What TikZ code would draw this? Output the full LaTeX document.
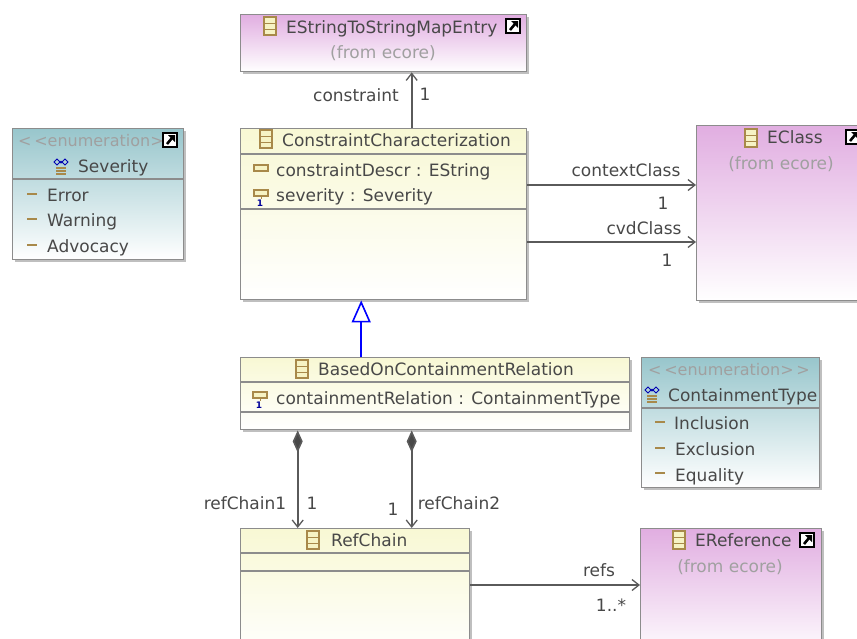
\documentclass[tikz,border=0pt]{standalone}
\usepackage{fontspec}
\setmainfont{DejaVu Sans}
\usetikzlibrary{shadows}
\usetikzlibrary{arrows.meta}
\definecolor{inkgray}{HTML}{484848}
\definecolor{fromgray}{HTML}{A0A0A0}
\definecolor{edgegray}{HTML}{8C8C8C}
\definecolor{icontan}{HTML}{A8894A}
\definecolor{iconcream}{HTML}{F6F3C4}
\tikzset{
    umlbox/.style={draw=edgegray, line width=1.4pt, rectangle, anchor=north west, inner sep=0pt,
        drop shadow={shadow xshift=2.5pt, shadow yshift=-2.5pt, fill=black, opacity=0.25}},
    classbox/.style={umlbox, top color={rgb,255:red,248;green,248;blue,212}, bottom color=white},
    ecorebox/.style={umlbox, top color={rgb,255:red,225;green,174;blue,225}, bottom color=white},
    enumbox/.style={umlbox, top color={rgb,255:red,152;green,198;blue,204}, bottom color=white},
    sepline/.style={draw=edgegray, line width=1.2pt},
    lbl/.style={inner sep=0pt, text=inkgray, font=\fontsize{17pt}{20pt}\selectfont, text height=13pt, text depth=4pt},
    fromlbl/.style={lbl, text=fromgray},
    stereolbl/.style={fromlbl, font=\fontsize{16pt}{20pt}\selectfont},
    assoc/.style={draw=inkgray!90, line width=1.6pt, -{Straight Barb[length=7pt,width=11pt,line width=1.3pt]}},
    compos/.style={assoc, {Diamond[length=22pt,width=10pt,fill=inkgray]}-{Straight Barb[length=7pt,width=11pt,line width=1.3pt]}},
    generalize/.style={draw=blue, line width=1.6pt, -{Triangle[open,length=22pt,width=19pt,fill=white]}},
    classicon/.pic={
        \draw[draw=icontan, fill=iconcream, line width=1.2pt] (-6,-9) rectangle (6,9);
        \draw[draw=icontan, line width=1pt] (-6,-3) -- (6,-3) (-6,3) -- (6,3);
    },
    attricon/.pic={
        \draw[draw=icontan, fill=iconcream, line width=1.2pt] (-7,-3) rectangle (7,3);
    },
    finalicon/.pic={
        \draw[draw=icontan, fill=iconcream, line width=1.2pt] (-7,-6) rectangle (7,0);
        \draw[draw=icontan, line width=1pt] (0,0) -- (0,3);
        \node[inner sep=0pt, text=blue!60!black, font=\bfseries\fontsize{9pt}{9pt}\selectfont] at (-1,7) {1};
    },
    enumicon/.pic={
        \draw[draw=blue!70!black, line width=1pt] (-7,-7) -- (-4,-10) -- (-1,-7) -- (-4,-4) -- cycle (7,-7) -- (4,-10) -- (1,-7) -- (4,-4) -- cycle;
        \fill[blue!70!black] (0,-7) circle (1.5);
        \draw[draw=icontan, line width=1.2pt] (-5,-1) -- (5,-1) (-5,2) -- (5,2) (-5,5) -- (5,5);
    },
    literalicon/.pic={
        \draw[draw=icontan, line width=2.6pt] (-5,0) -- (5,0);
    },
    linkicon/.pic={
        \draw[draw=black, fill=white, line width=1.3pt] (-7,-7) rectangle (7,7);
        \draw[draw=black, line width=2.6pt] (-3,4) -- (2,-2);
        \fill[black] (-2,-5) -- (5,-5) -- (5,2) -- cycle;
    },
}

\begin{document}
\begin{tikzpicture}[x=1pt, y=-1pt]
    \useasboundingbox (0,0) rectangle (857,638);
    \clip (0,0) rectangle (857,638);

    \node[ecorebox, minimum width=286pt, minimum height=57pt] (mapentry) at (240,14) {};
    \node[classbox, minimum width=286pt, minimum height=171pt] (charbox) at (240,128) {};
    \node[enumbox, minimum width=171pt, minimum height=131pt] (severity) at (12,128) {};
    \node[ecorebox, minimum width=175pt, minimum height=175pt] (eclass) at (696,125) {};
    \node[classbox, minimum width=389pt, minimum height=72pt] (basedon) at (240,357) {};
    \node[enumbox, minimum width=178pt, minimum height=130pt] (conttype) at (641,357) {};
    \node[classbox, minimum width=229pt, minimum height=130pt] (refchain) at (240,528) {};
    \node[ecorebox, minimum width=181pt, minimum height=130pt] (ereference) at (640,528) {};

    \draw[sepline] (charbox.west |- 0,154) -- (charbox.east |- 0,154);
    \draw[sepline] (charbox.west |- 0,209) -- (charbox.east |- 0,209);
    \draw[sepline] (severity.west |- 0,179) -- (severity.east |- 0,179);
    \draw[sepline] (basedon.west |- 0,382) -- (basedon.east |- 0,382);
    \draw[sepline] (basedon.west |- 0,412) -- (basedon.east |- 0,412);
    \draw[sepline] (conttype.west |- 0,408) -- (conttype.east |- 0,408);
    \draw[sepline] (refchain.west |- 0,553) -- (refchain.east |- 0,553);
    \draw[sepline] (refchain.west |- 0,571) -- (refchain.east |- 0,571);

    \draw[assoc] ([xshift=28pt]charbox.north) -- ([xshift=28pt]mapentry.south);
    \draw[assoc] (charbox.east |- 0,185) -- (eclass.west |- 0,185);
    \draw[assoc] (charbox.east |- 0,242) -- (eclass.west |- 0,242);
    \draw[assoc] (refchain.east |- 0,585) -- (ereference.west |- 0,585);
    \draw[compos] ([xshift=-137.5pt]basedon.south) -- ([xshift=-57.5pt]refchain.north);
    \draw[compos] ([xshift=-23.5pt]basedon.south) -- ([xshift=56.5pt]refchain.north);
    \draw[generalize] ([xshift=-74pt]basedon.north) -- ([xshift=-22.5pt]charbox.south);

    \node[lbl, anchor=west] (mapname) at (286,29) {EStringToStringMapEntry};
    \node[fromlbl] (mapfrom) at (383,54) {(from ecore)};
    \node[lbl, anchor=west] (charname) at (282,142) {ConstraintCharacterization};
    \node[lbl, anchor=west] (chardescr) at (276,172) {constraintDescr : EString};
    \node[lbl, anchor=west] (charsev) at (276,197) {severity : Severity};
    \node[stereolbl, anchor=west] (sevstereo) at (18,142) {<\,<enumeration>\,>};
    \node[lbl, anchor=west] (sevname) at (78,168) {Severity};
    \node[lbl, anchor=west] (sevone) at (47,197) {Error};
    \node[lbl, anchor=west] (sevtwo) at (47,222) {Warning};
    \node[lbl, anchor=west] (sevthree) at (47,248) {Advocacy};
    \node[lbl, anchor=west] (ename) at (767,139) {EClass};
    \node[fromlbl] (efrom) at (781,165) {(from ecore)};
    \node[lbl, anchor=west] (basedname) at (318,371) {BasedOnContainmentRelation};
    \node[lbl, anchor=west] (basedattr) at (276,400) {containmentRelation : ContainmentType};
    \node[stereolbl] (typestereo) at (729,371) {<\,<enumeration>\,>};
    \node[lbl, anchor=west] (typename) at (668,397) {ContainmentType};
    \node[lbl, anchor=west] (typeone) at (674,425) {Inclusion};
    \node[lbl, anchor=west] (typetwo) at (675,451) {Exclusion};
    \node[lbl, anchor=west] (typethree) at (675,477) {Equality};
    \node[lbl, anchor=west] (chainname) at (331,542) {RefChain};
    \node[lbl, anchor=west] (refname) at (695,542) {EReference};
    \node[fromlbl] (reffrom) at (730,568) {(from ecore)};

    \node[lbl] (constraintname) at (356,97) {constraint};
    \node[lbl] (constraintmult) at (425,96) {1};
    \node[lbl] (contextname) at (626,172) {contextClass};
    \node[lbl] (contextmult) at (663,205) {1};
    \node[lbl] (cvdname) at (644,230) {cvdClass};
    \node[lbl] (cvdmult) at (667,262) {1};
    \node[lbl] (chainonename) at (245,505) {refChain1};
    \node[lbl] (chainonemult) at (312,505) {1};
    \node[lbl] (chaintwomult) at (393,511) {1};
    \node[lbl] (chaintwoname) at (459,505) {refChain2};
    \node[lbl] (refsname) at (599,572) {refs};
    \node[lbl] (refsmult) at (611,607) {1..*};

    \pic at (270,26) {classicon};
    \pic at (266,139) {classicon};
    \pic at (302,369) {classicon};
    \pic at (751,138) {classicon};
    \pic at (313,540) {classicon};
    \pic at (679,540) {classicon};
    \pic at (261,168) {attricon};
    \pic at (261,196) {finalicon};
    \pic at (260,398) {finalicon};
    \pic at (61,169) {enumicon};
    \pic at (652,397) {enumicon};
    \pic at (32,194) {literalicon};
    \pic at (32,219) {literalicon};
    \pic at (32,245) {literalicon};
    \pic at (660,422) {literalicon};
    \pic at (660,448) {literalicon};
    \pic at (660,473) {literalicon};
    \pic at (513,26) {linkicon};
    \pic at (170,140) {linkicon};
    \pic at (853,137) {linkicon};
    \pic at (807,540) {linkicon};
\end{tikzpicture}
\end{document}
